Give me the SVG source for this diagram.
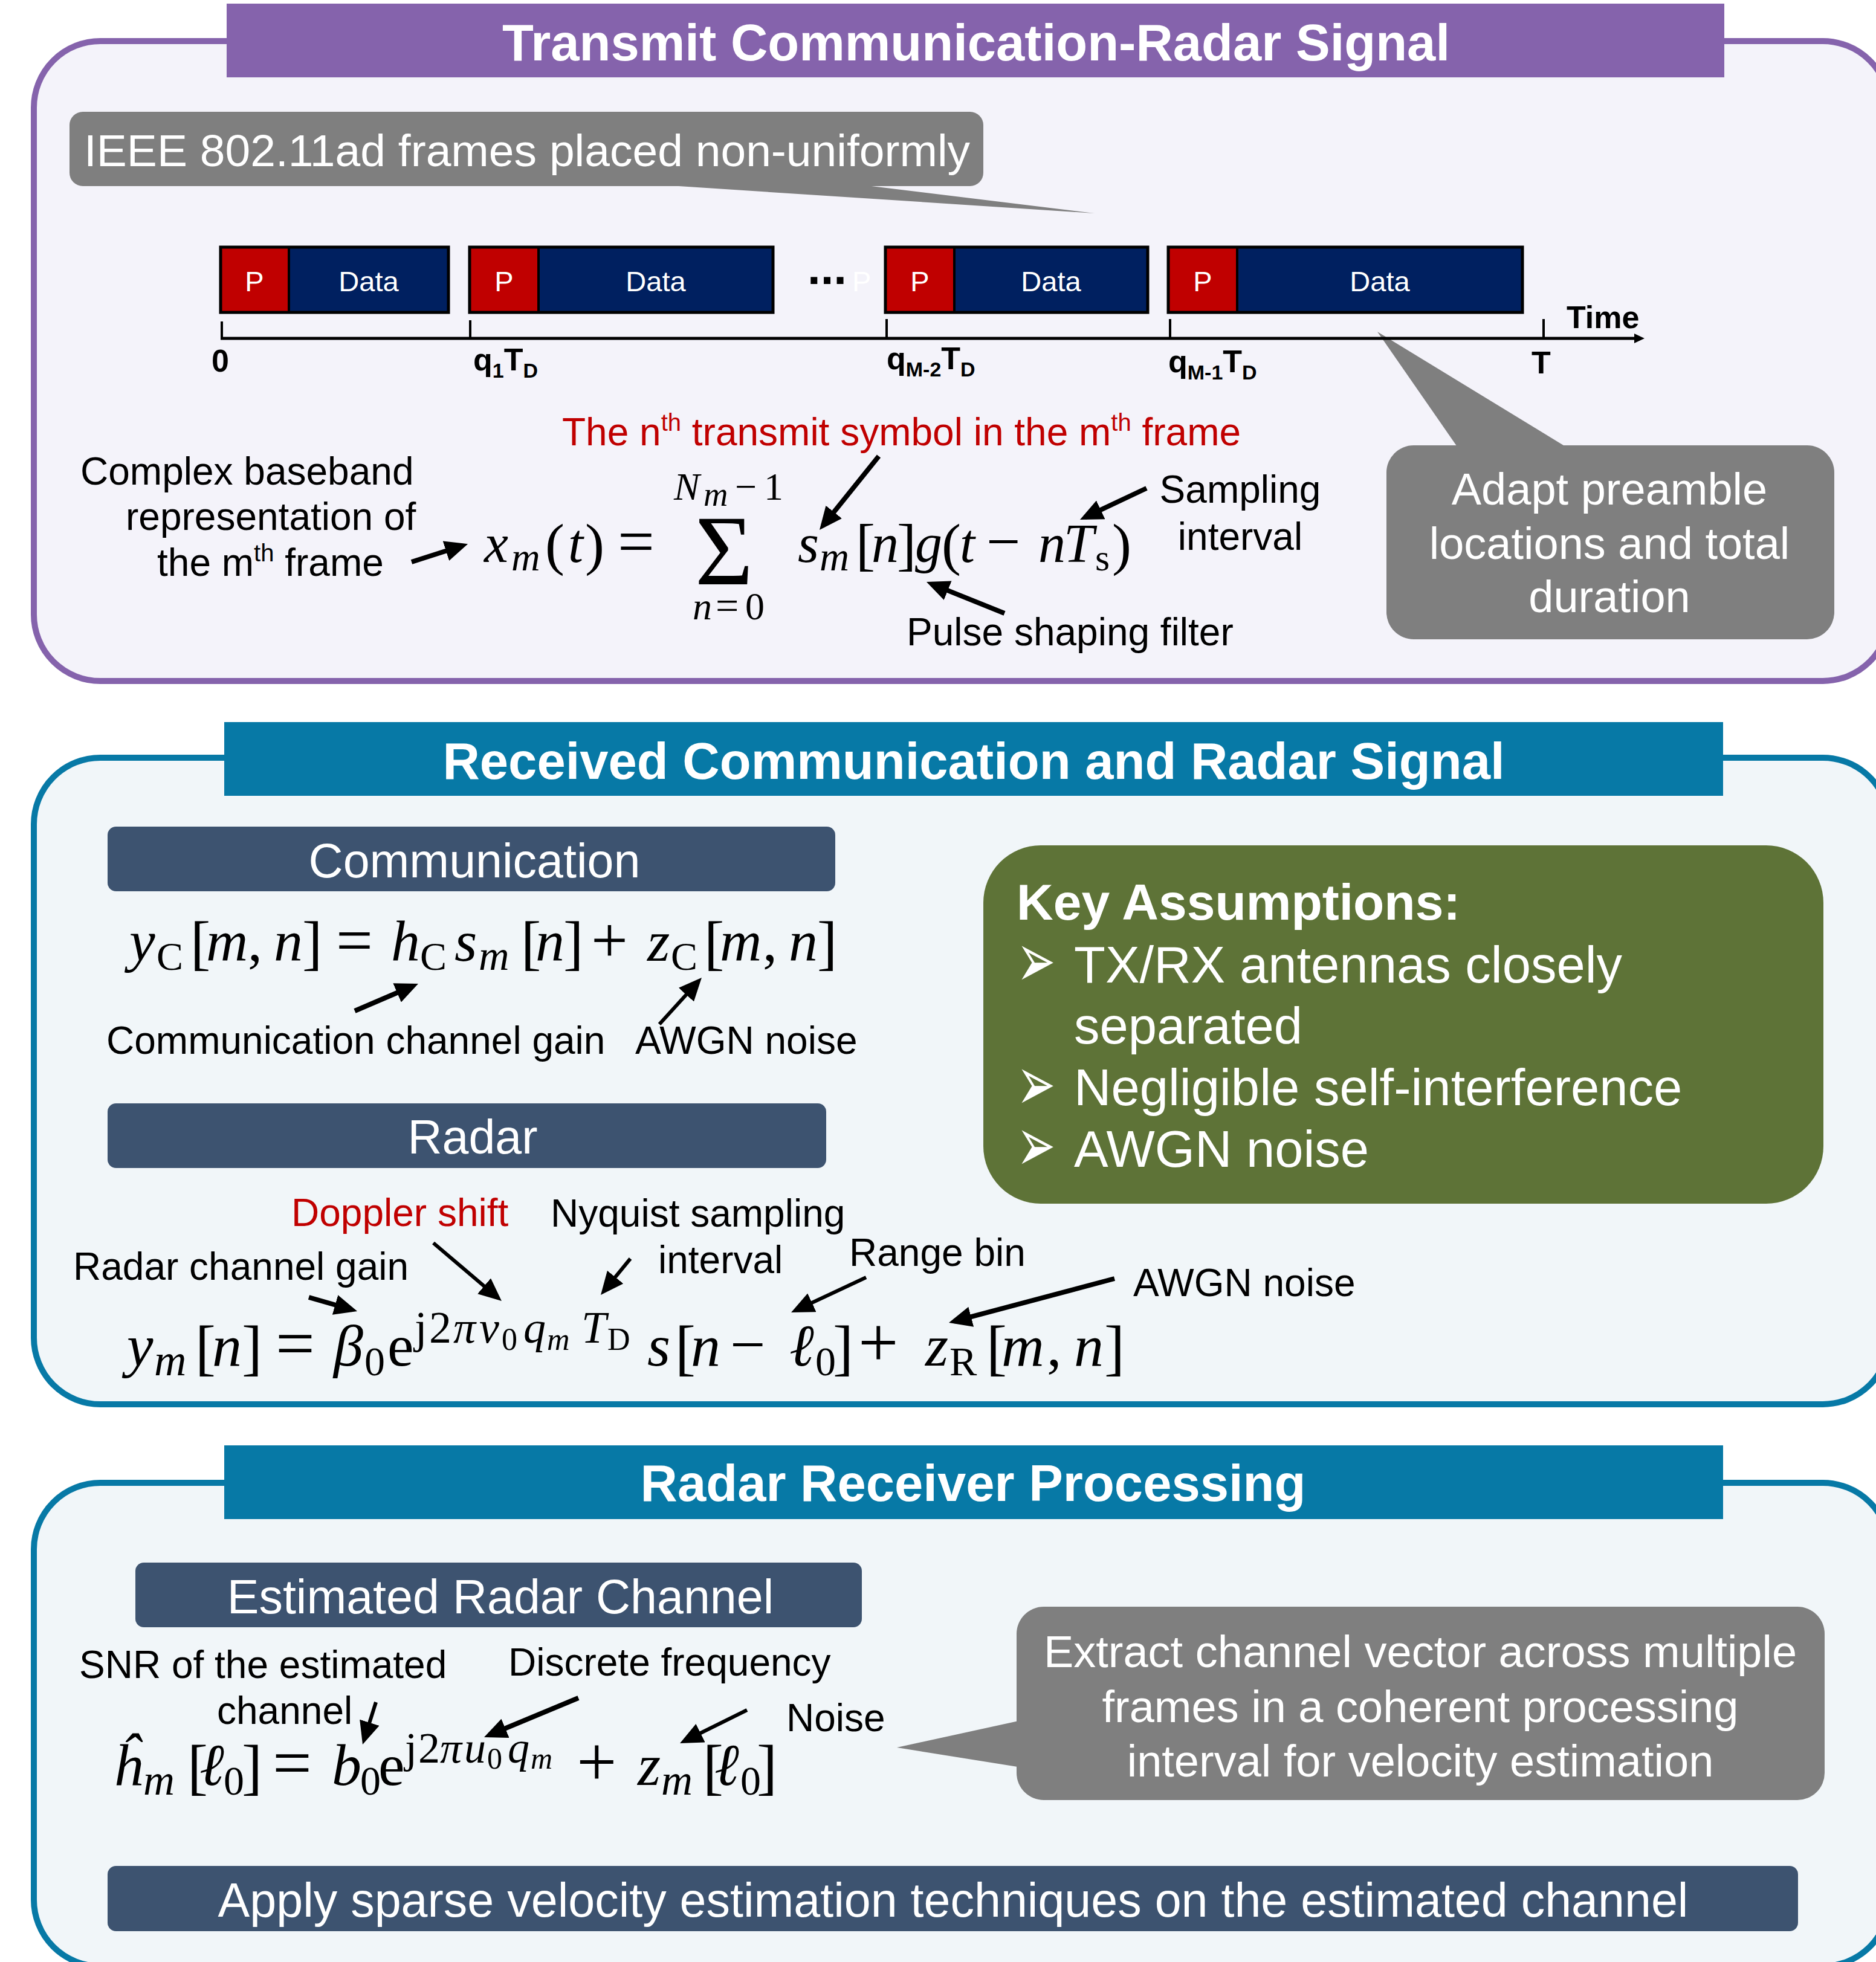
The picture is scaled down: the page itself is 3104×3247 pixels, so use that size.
<svg xmlns="http://www.w3.org/2000/svg" width="3104" height="3247" viewBox="0 0 3104 3247">
<style>
.sans{font-family:"Liberation Sans",Arial,sans-serif}
.b{font-weight:bold}
.w{fill:#fff}
.lbl{font-family:"Liberation Sans",Arial,sans-serif;font-size:64px;fill:#000}
.red{fill:#C00000}
.eq{font-family:"Liberation Serif","Times New Roman",serif;font-style:italic;fill:#000}
.r{font-style:normal}
.title{font-family:"Liberation Sans",Arial,sans-serif;font-weight:bold;font-size:85px;fill:#fff;text-anchor:middle}
.hdr{font-family:"Liberation Sans",Arial,sans-serif;font-size:79px;fill:#fff;text-anchor:middle}
.call{font-family:"Liberation Sans",Arial,sans-serif;font-size:74px;fill:#fff;text-anchor:middle}
.arr{stroke:#000;stroke-width:8;fill:none;marker-end:url(#ah)}
.arrt{stroke:#000;stroke-width:6;fill:none;marker-end:url(#ah)}
.tick{stroke:#000;stroke-width:4}
.fr{stroke:#000;stroke-width:5;fill:none}
.tl{font-family:"Liberation Sans",Arial,sans-serif;font-weight:bold;font-size:52px;fill:#000}
.bul{font-family:"DejaVu Sans",sans-serif;font-size:110px;fill:#fff}
</style>
<defs>
<marker id="ah" markerUnits="userSpaceOnUse" markerWidth="38" markerHeight="34" viewBox="0 0 38 34" refX="29" refY="17" orient="auto">
<path d="M0,0 L38,17 L0,34 z" fill="#000"/>
</marker>
</defs>
<rect width="3104" height="3247" fill="#fff"/>

<!-- Section 1 -->
<g id="sec1">
<rect x="56" y="68" width="3070" height="1059" rx="110" fill="#F4F3FA" stroke="#8563AC" stroke-width="10"/>
<rect x="375" y="6" width="2478" height="122" fill="#8563AC"/>
<text class="title" x="1615" y="100">Transmit Communication-Radar Signal</text>
</g>

<g id="callout-ieee">
<polygon points="1000,300 1811,353 1376,300" fill="#7F7F7F"/>
<rect x="115" y="185" width="1512" height="123" rx="22" fill="#7F7F7F"/>
<text class="sans w" x="139" y="275" font-size="75">IEEE 802.11ad frames placed non-uniformly</text>
</g>

<g id="callout-adapt">
<polygon points="2415,745 2279,549 2600,745" fill="#7F7F7F"/>
<rect x="2294" y="737" width="741" height="321" rx="45" fill="#7F7F7F"/>
<text class="call" x="2663" y="835">Adapt preamble</text>
<text class="call" x="2663" y="925">locations and total</text>
<text class="call" x="2663" y="1013">duration</text>
</g>

<g id="frames">
<rect x="365" y="409" width="113" height="108" fill="#C00000"/>
<rect x="478" y="409" width="264" height="108" fill="#002060"/>
<rect class="fr" x="365" y="409" width="377" height="108"/>
<line class="tick" x1="478" y1="409" x2="478" y2="517"/>
<rect x="777" y="409" width="114" height="108" fill="#C00000"/>
<rect x="891" y="409" width="388" height="108" fill="#002060"/>
<rect class="fr" x="777" y="409" width="502" height="108"/>
<line class="tick" x1="891" y1="409" x2="891" y2="517"/>
<rect x="1465" y="409" width="114" height="108" fill="#C00000"/>
<rect x="1579" y="409" width="320" height="108" fill="#002060"/>
<rect class="fr" x="1465" y="409" width="434" height="108"/>
<line class="tick" x1="1579" y1="409" x2="1579" y2="517"/>
<rect x="1933" y="409" width="114" height="108" fill="#C00000"/>
<rect x="2047" y="409" width="472" height="108" fill="#002060"/>
<rect class="fr" x="1933" y="409" width="586" height="108"/>
<line class="tick" x1="2047" y1="409" x2="2047" y2="517"/>
<g class="sans w" font-size="47" text-anchor="middle">
<text x="421" y="482">P</text><text x="610" y="482">Data</text>
<text x="834" y="482">P</text><text x="1085" y="482">Data</text>
<text x="1522" y="482">P</text><text x="1739" y="482">Data</text>
<text x="1990" y="482">P</text><text x="2283" y="482">Data</text>
</g>
<text class="sans b" x="1336" y="470" font-size="78">...</text>
<text class="sans w" x="1410" y="482" font-size="47">P</text>
</g>

<g id="timeline">
<line x1="365" y1="560" x2="2706" y2="560" stroke="#000" stroke-width="5"/>
<polygon points="2704,552 2721,560 2704,568" fill="#000"/>
<line class="tick" x1="367" y1="532" x2="367" y2="560"/>
<line class="tick" x1="778" y1="530" x2="778" y2="560"/>
<line class="tick" x1="1467" y1="528" x2="1467" y2="560"/>
<line class="tick" x1="1936" y1="528" x2="1936" y2="560"/>
<line class="tick" x1="2554" y1="528" x2="2554" y2="560"/>
<text class="tl" x="2592" y="543" font-size="51">Time</text>
<text class="tl" x="350" y="615">0</text>
<text class="tl" x="783" y="613">q<tspan font-size="34" dy="12">1</tspan><tspan dy="-12">T</tspan><tspan font-size="34" dy="12">D</tspan></text>
<text class="tl" x="1467" y="611">q<tspan font-size="34" dy="12">M-2</tspan><tspan dy="-12">T</tspan><tspan font-size="34" dy="12">D</tspan></text>
<text class="tl" x="1933" y="616">q<tspan font-size="34" dy="12">M-1</tspan><tspan dy="-12">T</tspan><tspan font-size="34" dy="12">D</tspan></text>
<text class="tl" x="2534" y="618">T</text>
</g>

<g id="labels1">
<text class="lbl red" x="930" y="737">The n<tspan font-size="40" dy="-24">th</tspan><tspan dy="24"> transmit symbol in the m</tspan><tspan font-size="40" dy="-24">th</tspan><tspan dy="24"> frame</tspan></text>
<text class="lbl" x="133" y="802">Complex baseband</text>
<text class="lbl" x="208" y="877">representation of</text>
<text class="lbl" x="260" y="953">the m<tspan font-size="40" dy="-24">th</tspan><tspan dy="24"> frame</tspan></text>
<text class="lbl" x="2052" y="832" text-anchor="middle">Sampling</text>
<text class="lbl" x="2052" y="910" text-anchor="middle">interval</text>
<text class="lbl" x="1500" y="1068">Pulse shaping filter</text>
</g>

<g id="eq1">
<text class="eq" font-size="90"><tspan x="801" y="930">x</tspan><tspan x="846" y="944" font-size="66">m</tspan><tspan class="r" x="902" y="933" font-size="96">(</tspan><tspan x="940" y="930">t</tspan><tspan class="r" x="968" y="933" font-size="96">)</tspan><tspan class="r" x="1022" y="932" font-size="108">=</tspan><tspan class="r" x="1150" y="967" font-size="165">Σ</tspan><tspan x="1115" y="827" font-size="64">N</tspan><tspan x="1164" y="837" font-size="56">m</tspan><tspan class="r" x="1216" y="827" font-size="64">−</tspan><tspan class="r" x="1264" y="827" font-size="64">1</tspan><tspan x="1146" y="1025" font-size="64">n</tspan><tspan class="r" x="1184" y="1025" font-size="68">=</tspan><tspan class="r" x="1233" y="1025" font-size="64">0</tspan><tspan x="1320" y="930">s</tspan><tspan x="1356" y="944" font-size="68">m</tspan><tspan class="r" x="1416" y="933" font-size="96">[</tspan><tspan x="1442" y="930">n</tspan><tspan class="r" x="1484" y="933" font-size="96">]</tspan><tspan x="1514" y="930">g</tspan><tspan class="r" x="1558" y="933" font-size="96">(</tspan><tspan x="1588" y="930">t</tspan><tspan class="r" x="1632" y="930" font-size="100">−</tspan><tspan x="1718" y="930">n</tspan><tspan x="1760" y="930">T</tspan><tspan class="r" x="1812" y="944" font-size="62">s</tspan><tspan class="r" x="1840" y="933" font-size="96">)</tspan></text>
</g>

<!-- Section 2 -->
<g id="sec2">
<rect x="56" y="1254" width="3070" height="1070" rx="110" fill="#F1F6F9" stroke="#0779A6" stroke-width="10"/>
<rect x="371" y="1195" width="2480" height="122" fill="#0779A6"/>
<text class="title" x="1611" y="1289">Received Communication and Radar Signal</text>
</g>

<g id="hdr-comm">
<rect x="178" y="1368" width="1204" height="107" rx="14" fill="#3D5370"/>
<text class="hdr" x="785" y="1452">Communication</text>
</g>

<g id="eq2">
<text class="eq" font-size="96"><tspan x="214" y="1590">y</tspan><tspan class="r" x="259" y="1605" font-size="66">C</tspan><tspan class="r" x="315" y="1594" font-size="100">[</tspan><tspan x="341" y="1590">m</tspan><tspan class="r" x="410" y="1590">,</tspan><tspan x="453" y="1590">n</tspan><tspan class="r" x="500" y="1594" font-size="100">]</tspan><tspan class="r" x="556" y="1592" font-size="108">=</tspan><tspan x="647" y="1590">h</tspan><tspan class="r" x="695" y="1605" font-size="66">C</tspan><tspan x="752" y="1590">s</tspan><tspan x="792" y="1605" font-size="70">m</tspan><tspan class="r" x="862" y="1594" font-size="100">[</tspan><tspan x="886" y="1590">n</tspan><tspan class="r" x="932" y="1594" font-size="100">]</tspan><tspan class="r" x="978" y="1592" font-size="108">+</tspan><tspan x="1071" y="1590">z</tspan><tspan class="r" x="1110" y="1605" font-size="66">C</tspan><tspan class="r" x="1165" y="1594" font-size="100">[</tspan><tspan x="1191" y="1590">m</tspan><tspan class="r" x="1262" y="1590">,</tspan><tspan x="1305" y="1590">n</tspan><tspan class="r" x="1352" y="1594" font-size="100">]</tspan></text>
</g>

<g id="labels2">
<text class="lbl" x="176" y="1744">Communication channel gain</text>
<text class="lbl" x="1051" y="1744">AWGN noise</text>
</g>

<g id="hdr-radar">
<rect x="178" y="1826" width="1189" height="107" rx="14" fill="#3D5370"/>
<text class="hdr" x="782" y="1909">Radar</text>
</g>

<g id="key-assumptions">
<rect x="1627" y="1399" width="1390" height="593" rx="95" fill="#5E7337"/>
<text class="sans b w" x="1682" y="1522" font-size="84">Key Assumptions:</text>
<text class="bul" transform="translate(1682,1633) scale(0.7,1.15)">➢</text>
<text class="bul" transform="translate(1682,1837) scale(0.7,1.15)">➢</text>
<text class="bul" transform="translate(1682,1938) scale(0.7,1.15)">➢</text>
<g class="sans w" font-size="85">
<text x="1777" y="1626">TX/RX antennas closely</text>
<text x="1777" y="1727">separated</text>
<text x="1777" y="1829">Negligible self-interference</text>
<text x="1777" y="1931">AWGN noise</text>
</g>
</g>

<g id="labels3">
<text class="lbl red" x="482" y="2029">Doppler shift</text>
<text class="lbl" x="911" y="2030">Nyquist sampling</text>
<text class="lbl" x="1089" y="2107">interval</text>
<text class="lbl" x="121" y="2118">Radar channel gain</text>
<text class="lbl" x="1405" y="2095">Range bin</text>
<text class="lbl" x="1875" y="2145">AWGN noise</text>
</g>

<g id="eq3">
<text class="eq" font-size="98"><tspan x="210" y="2260">y</tspan><tspan x="255" y="2276" font-size="74">m</tspan><tspan class="r" x="323" y="2264" font-size="102">[</tspan><tspan x="351" y="2260">n</tspan><tspan class="r" x="400" y="2264" font-size="102">]</tspan><tspan class="r" x="456" y="2262" font-size="115">=</tspan><tspan x="552" y="2260">β</tspan><tspan class="r" x="603" y="2276" font-size="68">0</tspan><tspan class="r" x="641" y="2260">e</tspan><tspan class="r" x="686" y="2222" font-size="74">j</tspan><tspan class="r" x="710" y="2222" font-size="74">2</tspan><tspan x="750" y="2222" font-size="74">π</tspan><tspan x="793" y="2222" font-size="74">ν</tspan><tspan class="r" x="830" y="2234" font-size="52">0</tspan><tspan x="866" y="2222" font-size="74">q</tspan><tspan x="905" y="2234" font-size="52">m</tspan><tspan x="962" y="2222" font-size="74">T</tspan><tspan class="r" x="1005" y="2234" font-size="52">D</tspan><tspan x="1071" y="2260">s</tspan><tspan class="r" x="1117" y="2264" font-size="102">[</tspan><tspan x="1143" y="2260">n</tspan><tspan class="r" x="1208" y="2260" font-size="104">−</tspan><tspan x="1306" y="2260">ℓ</tspan><tspan class="r" x="1349" y="2276" font-size="68">0</tspan><tspan class="r" x="1378" y="2264" font-size="102">]</tspan><tspan class="r" x="1420" y="2262" font-size="118">+</tspan><tspan x="1531" y="2260">z</tspan><tspan class="r" x="1571" y="2276" font-size="68">R</tspan><tspan class="r" x="1632" y="2264" font-size="102">[</tspan><tspan x="1657" y="2260">m</tspan><tspan class="r" x="1732" y="2260">,</tspan><tspan x="1777" y="2260">n</tspan><tspan class="r" x="1827" y="2264" font-size="102">]</tspan></text>
</g>

<!-- Section 3 -->
<g id="sec3">
<rect x="56" y="2454" width="3070" height="800" rx="110" fill="#F1F6F9" stroke="#0779A6" stroke-width="10"/>
<rect x="371" y="2392" width="2480" height="122" fill="#0779A6"/>
<text class="title" x="1610" y="2484">Radar Receiver Processing</text>
</g>

<g id="hdr-est">
<rect x="224" y="2586" width="1202" height="107" rx="14" fill="#3D5370"/>
<text class="hdr" x="828" y="2670">Estimated Radar Channel</text>
</g>

<g id="labels4">
<text class="lbl" x="131" y="2777">SNR of the estimated</text>
<text class="lbl" x="359" y="2853">channel</text>
<text class="lbl" x="841" y="2773">Discrete frequency</text>
<text class="lbl" x="1301" y="2865">Noise</text>
</g>

<g id="eq4">
<text class="eq" font-size="98"><tspan x="187" y="2954">ĥ</tspan><tspan x="237" y="2970" font-size="72">m</tspan><tspan class="r" x="310" y="2958" font-size="102">[</tspan><tspan x="330" y="2954">ℓ</tspan><tspan class="r" x="370" y="2970" font-size="68">0</tspan><tspan class="r" x="400" y="2958" font-size="102">]</tspan><tspan class="r" x="451" y="2956" font-size="115">=</tspan><tspan x="549" y="2954">b</tspan><tspan class="r" x="596" y="2970" font-size="68">0</tspan><tspan class="r" x="626" y="2954">e</tspan><tspan class="r" x="670" y="2917" font-size="72">j</tspan><tspan class="r" x="692" y="2917" font-size="72">2</tspan><tspan x="728" y="2917" font-size="72">π</tspan><tspan x="768" y="2917" font-size="72">u</tspan><tspan class="r" x="806" y="2927" font-size="50">0</tspan><tspan x="840" y="2917" font-size="72">q</tspan><tspan x="878" y="2927" font-size="50">m</tspan><tspan class="r" x="954" y="2956" font-size="118">+</tspan><tspan x="1055" y="2954">z</tspan><tspan x="1094" y="2970" font-size="72">m</tspan><tspan class="r" x="1163" y="2958" font-size="102">[</tspan><tspan x="1182" y="2954">ℓ</tspan><tspan class="r" x="1225" y="2970" font-size="68">0</tspan><tspan class="r" x="1252" y="2958" font-size="102">]</tspan></text>
</g>

<g id="callout-extract">
<polygon points="1690,2847 1484,2892 1690,2925" fill="#7F7F7F"/>
<rect x="1682" y="2659" width="1337" height="320" rx="45" fill="#7F7F7F"/>
<text class="call" x="2350" y="2759">Extract channel vector across multiple</text>
<text class="call" x="2350" y="2850">frames in a coherent processing</text>
<text class="call" x="2350" y="2940">interval for velocity estimation</text>
</g>

<g id="apply-bar">
<rect x="178" y="3088" width="2797" height="108" rx="14" fill="#3D5370"/>
<text class="hdr" x="1577" y="3172" font-size="80">Apply sparse velocity estimation techniques on the estimated channel</text>
</g>

<g id="connectors">
<line class="arr" x1="681" y1="930" x2="765.5" y2="902.9"/>
<line class="arr" x1="1454" y1="755" x2="1361.6" y2="870"/>
<line class="arr" x1="1897" y1="808" x2="1795.1" y2="856.2"/>
<line class="arr" x1="1662" y1="1015" x2="1541.3" y2="966.4"/>
<line class="arr" x1="587" y1="1673" x2="683.7" y2="1631.5"/>
<line class="arrt" x1="1091" y1="1695" x2="1154.9" y2="1624.7"/>
<line class="arr" x1="511" y1="2147" x2="582.4" y2="2167.5"/>
<line class="arrt" x1="717" y1="2057" x2="823.1" y2="2147.2"/>
<line class="arrt" x1="1043" y1="2083" x2="999.7" y2="2136"/>
<line class="arrt" x1="1433" y1="2114" x2="1317.2" y2="2168.2"/>
<line class="arr" x1="1844" y1="2116" x2="1578.7" y2="2186.7"/>
<line class="arrt" x1="622" y1="2817" x2="602.7" y2="2878.4"/>
<line class="arr" x1="957" y1="2810" x2="809.3" y2="2871.5"/>
<line class="arrt" x1="1236" y1="2830" x2="1133.1" y2="2881"/>
</g>
</svg>
